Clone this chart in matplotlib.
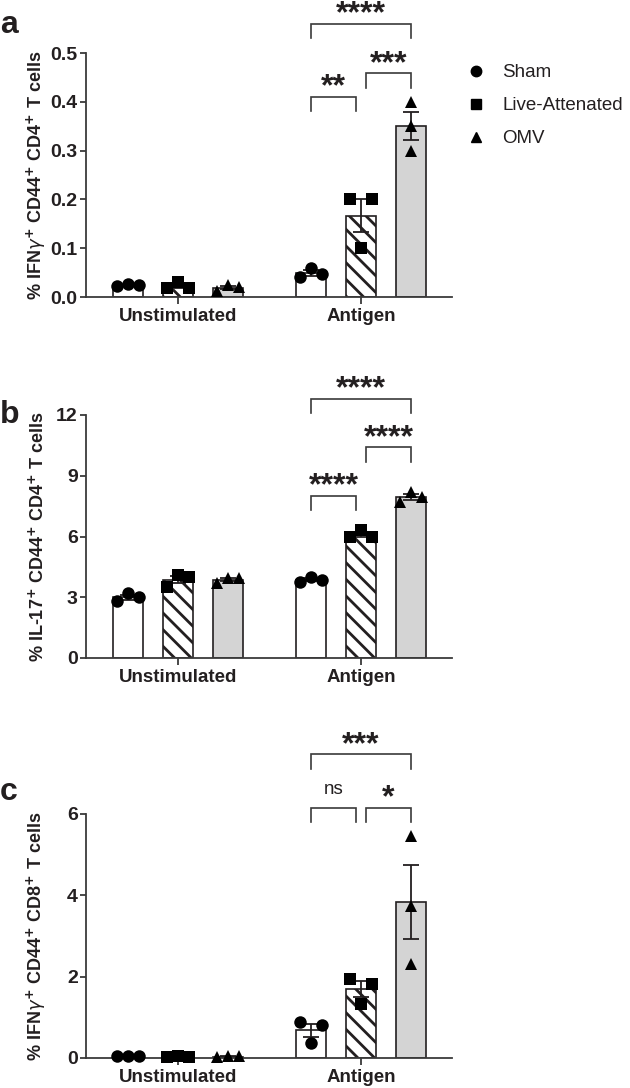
import numpy as np
import matplotlib
matplotlib.use("Agg")
import matplotlib.pyplot as plt
from matplotlib.lines import Line2D

plt.rcParams['font.family'] = ['Liberation Sans', 'DejaVu Sans']
plt.rcParams['hatch.linewidth'] = 2.0
plt.rcParams['mathtext.fontset'] = 'dejavusans'

GROUPS = ['Sham', 'Live-Attenated', 'OMV']
CONDITIONS = ['Unstimulated', 'Antigen']

# individual animals, per group, per condition
a_unstim = [[0.022, 0.026, 0.025], [0.018, 0.030, 0.018], [0.012, 0.024, 0.021]]
a_antigen = [[0.040, 0.060, 0.048], [0.20, 0.10, 0.20], [0.40, 0.35, 0.30]]
b_unstim = [[2.8, 3.2, 3.0], [3.5, 4.1, 4.0], [3.7, 3.95, 3.95]]
b_antigen = [[3.75, 4.0, 3.85], [6.0, 6.3, 6.0], [7.7, 8.2, 7.95]]
c_unstim = [[0.05, 0.05, 0.05], [0.03, 0.04, 0.03], [0.02, 0.04, 0.04]]
c_antigen = [[0.88, 0.37, 0.81], [1.95, 1.33, 1.82], [5.45, 3.75, 2.30]]

# comparisons within Antigen: (group i, group j, label)
a_stats = [(0, 2, '****'), (1, 2, '***'), (0, 1, '**')]
b_stats = [(0, 2, '****'), (1, 2, '****'), (0, 1, '****')]
c_stats = [(0, 2, '***'), (1, 2, '*'), (0, 1, 'ns')]

YLABELS = [r'% IFN$\gamma^{\mathbf{+}}$ CD44$^{\mathbf{+}}$ CD4$^{\mathbf{+}}$ T cells',
           r'% IL-17$^{\mathbf{+}}$ CD44$^{\mathbf{+}}$ CD4$^{\mathbf{+}}$ T cells',
           r'% IFN$\gamma^{\mathbf{+}}$ CD44$^{\mathbf{+}}$ CD8$^{\mathbf{+}}$ T cells']
YTICKS = [[0.0, 0.1, 0.2, 0.3, 0.4, 0.5], [0, 3, 6, 9, 12], [0, 2, 4, 6]]
YTICKLABELS = [['0.0', '0.1', '0.2', '0.3', '0.4', '0.5'],
               ['0', '3', '6', '9', '12'], ['0', '2', '4', '6']]

# bracket heights (bottom, top) in data units, same order as stats
a_br = [(0.53, 0.56), (0.429, 0.458), (0.382, 0.41)]
b_br = [(12.1, 12.8), (9.7, 10.4), (7.3, 8.0)]
c_br = [(7.1, 7.47), (5.8, 6.15), (5.8, 6.15)]

INK = '#231f20'
FILLS = ['white', 'white', '#d4d4d4']
HATCH = [None, '\\\\', None]
MARKERS = ['o', 's', '^']
MSIZE = [9, 8, 9]

fig = plt.figure(figsize=(6.3, 10.88), dpi=100)
W, H = 630, 1088
# axes boxes in pixels: (left, top, right, bottom)
boxes = [(86, 53, 452, 297), (86, 415, 452, 658), (86, 814, 452, 1058)]
letters = [('a', 33), ('b', 423), ('c', 800)]

centers = [np.array([1.0, 2.0, 3.0]), np.array([4.66, 5.66, 6.66])]


def spread(vals, ppu, d=11.5, step=0.22):
    vals = np.asarray(vals, float)
    order = np.argsort(vals, kind='stable')
    clusters = []
    for i in order:
        if clusters and (vals[i] - vals[clusters[-1][-1]]) * ppu < d:
            clusters[-1].append(i)
        else:
            clusters.append([i])
    off = np.zeros(len(vals))
    for c in clusters:
        c = sorted(c)
        if len(c) > 1:
            off[c] = np.linspace(-1, 1, len(c)) * step
    return off


panels = [(a_unstim, a_antigen, a_stats, a_br),
          (b_unstim, b_antigen, b_stats, b_br),
          (c_unstim, c_antigen, c_stats, c_br)]

for p, (unst, anti, stats, br) in enumerate(panels):
    l, t, r, b = boxes[p]
    ax = fig.add_axes([l / W, 1 - b / H, (r - l) / W, (b - t) / H])
    ymax = YTICKS[p][-1]
    ax.set_ylim(0, ymax)
    ax.set_xlim(0.16, 7.48)
    ppu = (b - t) / ymax

    for ci, data in enumerate([unst, anti]):
        for g in range(3):
            vals = np.array(data[g])
            m = vals.mean()
            sem = vals.std(ddof=1) / np.sqrt(len(vals))
            x = centers[ci][g]
            ax.bar(x, m, width=0.6, color=FILLS[g], edgecolor=INK,
                   linewidth=1.2, hatch=HATCH[g], zorder=1)
            ax.errorbar(x, m, yerr=sem, fmt='none', ecolor=INK,
                        elinewidth=1.3, capsize=5.5, capthick=1.3, zorder=2)
            ax.plot(x + spread(vals, ppu), vals, MARKERS[g], color='black',
                    markersize=MSIZE[g], markeredgewidth=0, linestyle='none',
                    zorder=3, clip_on=False)

    # significance brackets over the Antigen bars
    xc = centers[1]
    for (i, j, lab), (y0, y1) in zip(stats, br):
        x0 = xc[i] + (0.1 if i == 1 else 0)
        x1 = xc[j] - (0.1 if j == 1 else 0)
        ax.plot([x0, x0, x1, x1], [y0, y1, y1, y0], color='#3a3a3a',
                linewidth=1.2, clip_on=False, solid_joinstyle='miter')
        if lab == 'ns':
            ax.annotate(lab, ((x0 + x1) / 2, y1), xytext=(0, 10),
                        textcoords='offset points', ha='center',
                        va='baseline', fontsize=13.5, color=INK,
                        annotation_clip=False)
        else:
            ax.annotate(lab, ((x0 + x1) / 2, y1), xytext=(0, 1.0),
                        textcoords='offset points', ha='center',
                        va='baseline', fontsize=23, fontweight='bold',
                        color=INK, annotation_clip=False)

    for side in ['top', 'right']:
        ax.spines[side].set_visible(False)
    for side in ['left', 'bottom']:
        ax.spines[side].set_linewidth(1.3)
        ax.spines[side].set_color('#3a3a3a')

    ax.set_yticks(YTICKS[p])
    ax.set_yticklabels(YTICKLABELS[p], fontsize=14, fontweight='bold',
                       color=INK)
    ax.set_xticks([centers[0][1], centers[1][1]])
    ax.set_xticklabels(CONDITIONS, fontsize=13.5, fontweight='bold', color=INK)
    ax.tick_params(axis='y', length=4, width=1.3, pad=2, color='#3a3a3a')
    ax.tick_params(axis='x', length=5, width=1.3, pad=3, color='#3a3a3a')
    ax.set_ylabel(YLABELS[p], fontsize=13, fontweight='bold', color=INK)
    ax.yaxis.set_label_coords(-0.105, 0.5)

    fig.text(0.0, 1 - letters[p][1] / H, letters[p][0], fontsize=23,
             fontweight='bold', color=INK, va='baseline', ha='left')

    if p == 0:
        handles = [Line2D([0], [0], marker=MARKERS[g], color='black',
                          linestyle='none', markersize=MSIZE[g] - 1.5,
                          label=GROUPS[g]) for g in range(3)]
        ax.legend(handles=handles, loc='upper left',
                  bbox_to_anchor=(1.04, 0.955), frameon=False,
                  fontsize=13.5, handlelength=1.0, handletextpad=0.9,
                  labelspacing=0.85, borderaxespad=0, borderpad=0,
                  labelcolor=INK)

fig.savefig('out.png', dpi=100)
